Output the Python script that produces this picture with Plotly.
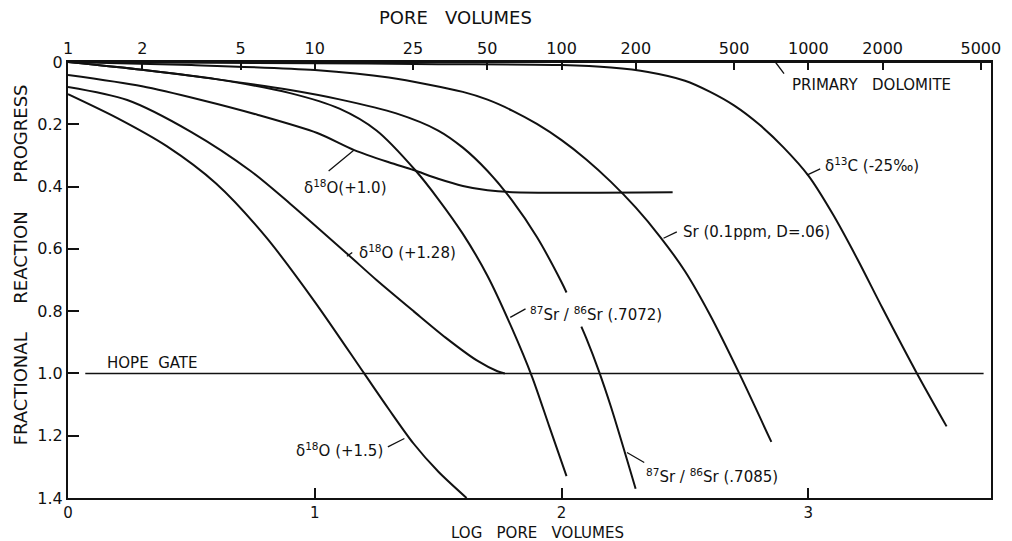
import numpy as np
import plotly.graph_objects as go

# ---------------- data ----------------
# x = log10(pore volumes), y = fractional reaction progress
o15_x = [0, 0.2, 0.4, 0.6, 0.8, 1.0, 1.2, 1.3, 1.4, 1.5, 1.615]
o15_y = [0.103, 0.18, 0.27, 0.39, 0.56, 0.77, 1.0, 1.115, 1.225, 1.315, 1.4]

o128_x = [0, 0.24, 0.5, 0.74, 0.9, 1.13, 1.25, 1.4, 1.53, 1.66, 1.74, 1.77]
o128_y = [0.08, 0.122, 0.225, 0.35, 0.455, 0.615, 0.70, 0.80, 0.885, 0.96, 0.993, 1.0]

o10_x = [0, 0.3, 0.54, 0.77, 1.01, 1.16, 1.3, 1.4, 1.5, 1.6, 1.7, 1.8, 2.45]
o10_y = [0.042, 0.078, 0.122, 0.17, 0.228, 0.283, 0.322, 0.347, 0.375, 0.398, 0.412, 0.418, 0.418]

sr7072_x = [0, 0.3, 0.6, 0.9, 1.1, 1.25, 1.41, 1.5, 1.6, 1.7, 1.8, 1.88, 1.95, 2.02]
sr7072_y = [0, 0.025, 0.055, 0.1, 0.15, 0.22, 0.35, 0.44, 0.552, 0.687, 0.857, 1.01, 1.17, 1.33]

sr7085_x = [0, 0.3, 0.6, 0.9, 1.1, 1.33, 1.5, 1.6, 1.7, 1.8, 1.9, 2.0, 2.02, None, 2.08, 2.1, 2.15, 2.2, 2.3]
sr7085_y = [0, 0.025, 0.055, 0.09, 0.12, 0.165, 0.22, 0.275, 0.35, 0.445, 0.562, 0.707, 0.74, None, 0.85, 0.887, 0.99, 1.107, 1.37]

sr_x = [0, 0.5, 1.0, 1.3, 1.6, 1.7, 1.8, 1.9, 2.0, 2.1, 2.2, 2.3, 2.4, 2.5, 2.6, 2.72, 2.85]
sr_y = [0, 0.01, 0.026, 0.05, 0.096, 0.121, 0.156, 0.199, 0.251, 0.313, 0.385, 0.467, 0.562, 0.672, 0.81, 1.0, 1.22]

c13_x = [0, 1.0, 1.5, 2.0, 2.2, 2.35, 2.5, 2.6, 2.7, 2.8, 2.9, 3.0, 3.1, 3.2, 3.3, 3.44, 3.56]
c13_y = [0, 0.004, 0.007, 0.01, 0.018, 0.032, 0.06, 0.095, 0.14, 0.2, 0.275, 0.365, 0.49, 0.635, 0.79, 1.0, 1.17]

dolo_x = [0, 3.74]
dolo_y = [0, 0]

hope_x = [0.07, 3.71]
hope_y = [1.0, 1.0]

bottom_ticks = [0, 1, 2, 3]
left_ticks = [0, 0.2, 0.4, 0.6, 0.8, 1.0, 1.2, 1.4]
left_labels = ["0", "0.2", "0.4", "0.6", "0.8", "1.0", "1.2", "1.4"]
top_labels = [1, 2, 5, 10, 25, 50, 100, 200, 500, 1000, 2000, 5000]

NB = "\u00a0"
# labels: text, text anchor (x, y), leader from (x0, y0) to (x1, y1)
labels = [
    ("PRIMARY" + NB * 3 + "DOLOMITE", 3.255, 0.074, "center", (2.866, 0.0), (2.906, 0.042)),
    ("δ<sup>13</sup>C" + NB + "(-25‰)", 3.06, 0.33, "left", (2.994, 0.363), (3.054, 0.341)),
    ("Sr" + NB + "(0.1ppm," + NB + "D=.06)", 2.485, 0.545, "left", (2.413, 0.566), (2.473, 0.543)),
    ("<sup>87</sup>Sr" + NB + "/" + NB + "<sup>86</sup>Sr" + NB + "(.7072)", 1.864, 0.81, "left", (1.792, 0.82), (1.86, 0.79)),
    ("<sup>87</sup>Sr" + NB + "/" + NB + "<sup>86</sup>Sr" + NB + "(.7085)", 2.333, 1.33, "left", (2.265, 1.254), (2.341, 1.289)),
    ("δ<sup>18</sup>O(+1.0)", 0.95, 0.40, "left", (1.158, 0.283), (1.05, 0.354)),
    ("δ<sup>18</sup>O" + NB + "(+1.28)", 1.17, 0.61, "left", (1.13, 0.624), (1.158, 0.608)),
    ("δ<sup>18</sup>O" + NB + "(+1.5)", 1.283, 1.245, "right", (1.363, 1.209), (1.29, 1.238)),
    ("HOPE" + NB * 2 + "GATE", 0.148, 0.965, "left", None, None),
]

FONT = "DejaVu Sans"
BLACK = "#111111"

fig = go.Figure()
curves = [
    (o15_x, o15_y), (o128_x, o128_y), (o10_x, o10_y),
    (sr7072_x, sr7072_y), (sr7085_x, sr7085_y), (sr_x, sr_y),
    (c13_x, c13_y), (dolo_x, dolo_y),
]
for cx, cy in curves:
    fig.add_trace(go.Scatter(x=cx, y=cy, mode="lines", connectgaps=False,
                             line=dict(color=BLACK, width=2, shape="spline", smoothing=0.8),
                             hoverinfo="skip", showlegend=False))
fig.add_trace(go.Scatter(x=hope_x, y=hope_y, mode="lines",
                         line=dict(color=BLACK, width=1.5), showlegend=False, hoverinfo="skip"))
# invisible trace so that the top axis is drawn
fig.add_trace(go.Scatter(x=[0], y=[0], xaxis="x2", mode="markers",
                         marker=dict(opacity=0), showlegend=False, hoverinfo="skip"))

for text, tx, ty, anchor, p0, p1 in labels:
    fig.add_annotation(x=tx, y=ty, xref="x", yref="y", text=text, showarrow=False,
                       xanchor=anchor, yanchor="middle",
                       font=dict(family=FONT, size=15, color=BLACK))
    if p0 is not None:
        fig.add_annotation(x=p0[0], y=p0[1], ax=p1[0], ay=p1[1], xref="x", yref="y",
                           axref="x", ayref="y", text="", showarrow=True, arrowhead=0,
                           arrowwidth=1.3, arrowcolor=BLACK)

XMAX = 3.74
fig.update_layout(
    width=1012, height=541,
    margin=dict(l=68, r=11, t=62, b=43),
    paper_bgcolor="white", plot_bgcolor="white",
    font=dict(family=FONT, size=16, color=BLACK),
    xaxis=dict(range=[0, XMAX], tickvals=bottom_ticks, ticktext=[str(t) for t in bottom_ticks],
               ticks="inside", ticklen=10, tickwidth=1.5, tickcolor=BLACK,
               showline=True, linewidth=2, linecolor=BLACK, showgrid=False, zeroline=False,
               tickfont=dict(size=15)),
    xaxis2=dict(range=[0, XMAX], overlaying="x", side="top", anchor="y",
                tickvals=list(np.log10(top_labels)), ticktext=[str(t) for t in top_labels],
                ticks="inside", ticklen=8, tickwidth=1.5, tickcolor=BLACK,
                showline=True, linewidth=2, linecolor=BLACK, showgrid=False, zeroline=False,
                tickfont=dict(size=16)),
    yaxis=dict(range=[1.4, 0], tickvals=left_ticks, ticktext=left_labels,
               ticks="inside", ticklen=11, tickwidth=1.5, tickcolor=BLACK,
               showline=True, mirror=True, linewidth=2, linecolor=BLACK,
               showgrid=False, zeroline=False, tickfont=dict(size=16)),
)

fig.add_annotation(text="PORE" + NB * 3 + "VOLUMES", xref="paper", yref="paper",
                   x=0.42, y=1.101, showarrow=False, xanchor="center", yanchor="middle",
                   font=dict(family=FONT, size=18, color=BLACK))
fig.add_annotation(text="LOG" + NB * 3 + "PORE" + NB * 3 + "VOLUMES", xref="paper", yref="paper",
                   x=0.509, y=-0.081, showarrow=False, xanchor="center", yanchor="middle",
                   font=dict(family=FONT, size=15, color=BLACK))
fig.add_annotation(text="FRACTIONAL" + NB * 5 + "REACTION" + NB * 5 + "PROGRESS",
                   xref="paper", yref="paper", x=-0.0514, y=0.535, textangle=-90,
                   showarrow=False, xanchor="center", yanchor="middle",
                   font=dict(family=FONT, size=18, color=BLACK))

fig.write_html("out.html")
